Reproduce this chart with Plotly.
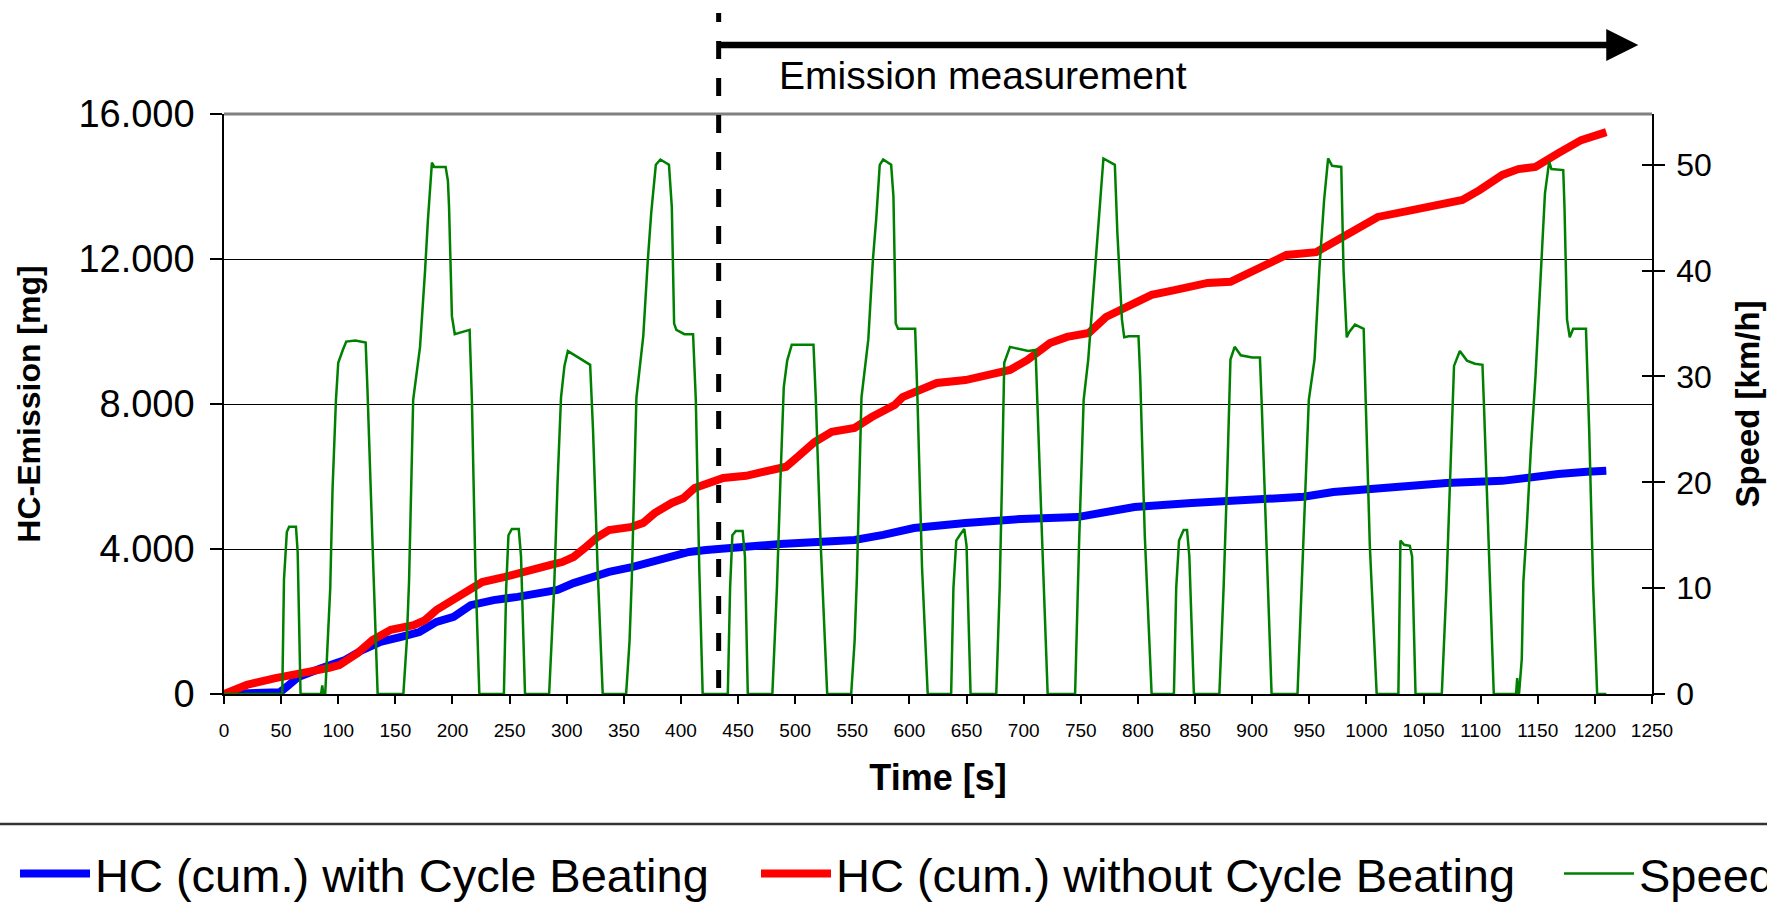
import plotly.graph_objects as go

# ---------------- data ----------------
BLUE_T = [0, 20, 49, 55, 65, 85, 106, 121, 137, 156,
          171, 186, 201, 216, 236, 257, 277, 292, 306, 322,
          337, 357, 372, 387, 407, 422, 437, 457, 487, 517,
          552, 577, 604, 649, 698, 747, 772, 797, 847, 896,
          945, 971, 1020, 1070, 1119, 1144, 1168, 1193, 1210]
BLUE_V = [0, 20, 50, 200, 470, 710, 940, 1210, 1440, 1580,
          1710, 1990, 2130, 2450, 2590, 2680, 2790, 2870, 3060, 3230,
          3370, 3500, 3640, 3780, 3920, 3970, 4030, 4060, 4140, 4200,
          4250, 4390, 4580, 4720, 4830, 4880, 5020, 5160, 5270, 5380,
          5440, 5570, 5710, 5820, 5880, 5990, 6070, 6130, 6160]

RED_T = [0, 20, 45, 71, 92, 101, 117, 130, 146, 166,
         176, 186, 206, 216, 226, 246, 266, 286, 296, 306,
         317, 327, 337, 357, 367, 377, 392, 402, 412, 427,
         437, 457, 477, 492, 502, 517, 532, 552, 567, 587,
         594, 624, 649, 673, 688, 703, 723, 738, 757, 772,
         792, 812, 832, 861, 881, 896, 915, 930, 956, 975,
         995, 1010, 1040, 1070, 1084, 1099, 1119, 1133, 1148, 1168,
         1188, 1210]
RED_V = [0, 250, 440, 580, 720, 800, 1130, 1490, 1770, 1900,
         2040, 2320, 2730, 2950, 3090, 3230, 3370, 3560, 3640, 3780,
         4060, 4330, 4520, 4610, 4720, 4990, 5270, 5400, 5680, 5850,
         5960, 6020, 6180, 6270, 6540, 6950, 7230, 7340, 7640, 7970,
         8190, 8580, 8660, 8850, 8940, 9210, 9680, 9850, 9960, 10400,
         10730, 11010, 11140, 11340, 11370, 11610, 11920, 12110, 12190, 12520,
         12890, 13160, 13350, 13540, 13630, 13900, 14320, 14480, 14540, 14920,
         15280, 15500]

SPEED_T = [
    # cycle 1
    0, 51, 52.5, 55, 57, 63, 64.5, 67,
    85, 86, 87, 88.6, 93, 95, 98, 100, 104, 107, 115, 124, 125.5, 128, 131, 134.5,
    157, 160, 162, 165.6, 171.6, 176, 178.5, 182, 184, 194, 196, 197, 199.5, 202, 208, 215, 217, 220, 223.5,
    # cycle 2
    245, 247, 249, 252, 258, 260, 263.5,
    284.6, 289, 292, 295, 298, 301, 310, 320.5, 323, 327, 331.5,
    352, 355, 357, 361, 367, 371, 374, 378, 382, 389.5, 392, 394, 396, 403, 410.6, 413, 416, 419,
    # cycle 3
    441, 443, 445, 448, 454, 456, 458.5,
    480, 484, 487, 490, 493, 497, 510, 516, 518, 522, 528,
    549, 552, 554, 558, 564, 568, 571, 574, 577, 584, 586, 588, 590, 600, 605, 607, 611, 616,
    # cycle 4
    636.5, 638.5, 641, 644, 648, 650, 653.5,
    676, 679, 681, 683, 688, 695, 704, 710.4, 712, 716, 721,
    745, 748.5, 752.5, 756.5, 764, 767.5, 769.8, 779.8, 782, 786, 788, 792, 800.5, 802, 806, 812,
    # cycle 5
    831.5, 833.5, 836, 840, 843, 845, 849,
    871.3, 875, 878, 881, 884.7, 890, 900, 906.8, 908.5, 912, 917,
    939.7, 944.5, 949.6, 954.6, 959, 963, 966.5, 970, 978, 980, 982.8, 985, 990, 997.6, 999, 1003, 1009,
    # cycle 6
    1028, 1029.8, 1033, 1038, 1040, 1043,
    1066, 1070, 1073, 1076.7, 1081.8, 1088, 1095, 1101.6, 1103, 1107, 1111.5,
    1131, 1132, 1133,
    1133.6, 1136, 1137.4, 1140.3, 1143.8, 1148, 1151, 1154.3, 1156.3, 1160, 1162, 1172.3, 1173.4, 1175.6,
    1178, 1181, 1192.2, 1195, 1198.5, 1202, 1210]
SPEED_V = [
    # cycle 1
    0, 0, 10.8, 15.3, 15.8, 15.8, 13.4, 0,
    0, 0.8, 0, 0, 10, 19.3, 27.8, 31.3, 32.5, 33.3, 33.4, 33.2, 29, 20, 11, 0,
    0, 5, 10.7, 27.8, 32.8, 40, 44.8, 50.2, 49.8, 49.8, 48.5, 46, 35.7, 34, 34.2, 34.4, 27.8, 12, 0,
    # cycle 2
    0, 10, 15, 15.6, 15.6, 13, 0,
    0, 10, 20, 28, 31, 32.4, 31.8, 31.1, 25, 12, 0,
    0, 5, 11, 28, 33.8, 41, 45.5, 50, 50.5, 50, 46, 35, 34.4, 34, 34, 27.8, 12, 0,
    # cycle 3
    0, 10, 15, 15.4, 15.4, 13, 0,
    0, 10, 20, 29, 31.5, 33, 33, 33, 28, 15, 0,
    0, 5, 11, 28, 33.5, 41, 45, 50, 50.5, 50, 47, 35, 34.5, 34.5, 34.5, 28, 12, 0,
    # cycle 4
    0, 10, 14.5, 15, 15.6, 14, 0,
    0, 10, 20, 31.3, 32.8, 32.6, 32.4, 32.5, 28, 15, 0,
    0, 14.3, 27.8, 31.6, 42, 47.4, 50.6, 50, 43.6, 35.4, 33.7, 33.8, 33.8, 30, 15, 0,
    # cycle 5
    0, 10, 14.5, 15.5, 15.5, 13, 0,
    0, 10, 20, 31.6, 32.8, 32, 31.8, 31.8, 27, 15, 0,
    0, 14.3, 27.8, 31.6, 40.4, 46.7, 50.6, 49.9, 49.8, 40, 33.7, 34.2, 34.9, 34.5, 29, 14, 0,
    # cycle 6
    0, 14.5, 14.1, 14, 13, 0,
    0, 10, 20, 31, 32.4, 31.5, 31.2, 31.1, 27, 14, 0,
    0, 1.5, 0,
    0, 3.3, 10.6, 15.6, 22.8, 30, 36, 42.3, 47.3, 50.3, 49.6, 49.5, 46, 35.4,
    33.7, 34.5, 34.5, 25, 10.2, 0, 0]

NAMES = ["HC (cum.) with Cycle Beating", "HC (cum.) without Cycle Beating", "Speed"]
HC_TICKS = [0, 4000, 8000, 12000, 16000]
SPEED_TICKS = [0, 10, 20, 30, 40, 50]
TIME_TICKS = list(range(0, 1251, 50))
MEAS_START = 433      # s, begin of emission measurement
MEAS_END = 1238       # s, arrow tip

# ---------------- layout geometry ----------------
W, H = 1767, 915
ML, MR, MT, MB = 224, 115, 114, 221
PW, PH = W - ML - MR, H - MT - MB


def px_to_py(ypix):
    return (H - MB - ypix) / PH


def px_to_px(xpix):
    return (xpix - ML) / PW


FONT = "Liberation Sans, Arial, sans-serif"

fig = go.Figure()
fig.add_trace(go.Scatter(x=BLUE_T, y=BLUE_V, mode="lines", name=NAMES[0],
                         line=dict(color="#0000FF", width=8), legend="legend"))
fig.add_trace(go.Scatter(x=RED_T, y=RED_V, mode="lines", name=NAMES[1],
                         line=dict(color="#FF0000", width=8), legend="legend2"))
fig.add_trace(go.Scatter(x=SPEED_T, y=SPEED_V, mode="lines", name=NAMES[2], yaxis="y2",
                         line=dict(color="#008000", width=2.5), legend="legend3"))
# helper axis only for inward tick marks on the right axis
fig.add_trace(go.Scatter(x=[None], y=[None], yaxis="y3", showlegend=False, hoverinfo="skip"))

SPEED_MAX = 54.8

leg_common = dict(orientation="h", yanchor="middle", xanchor="left", y=px_to_py(874),
                  font=dict(family=FONT, size=47, color="black"), itemwidth=70,
                  bgcolor="rgba(0,0,0,0)", borderwidth=0)

fig.update_layout(
    width=W, height=H,
    margin=dict(l=ML, r=MR, t=MT, b=MB, autoexpand=False),
    paper_bgcolor="white", plot_bgcolor="white",
    separators=",.",
    font=dict(family=FONT, color="black"),
    xaxis=dict(range=[0, 1250], tickvals=TIME_TICKS, ticks="outside", ticklen=8,
               tickwidth=1.5, tickcolor="black", showline=True, linecolor="black", linewidth=1.5,
               showgrid=False, zeroline=False, tickfont=dict(size=19, family=FONT),
               ticklabelstandoff=10,
               title=dict(text="<b>Time [s]</b>", font=dict(size=36, family=FONT), standoff=25)),
    yaxis=dict(range=[0, 16000], tickvals=HC_TICKS, tickformat=",d", ticks="outside", ticklen=12,
               tickwidth=1.5, tickcolor="black", showline=True, linecolor="black", linewidth=1.5,
               showgrid=True, gridcolor="black", gridwidth=1, zeroline=False,
               tickfont=dict(size=38, family=FONT), ticklabelstandoff=8,
               title=dict(text="<b>HC-Emission [mg]</b>", font=dict(size=32, family=FONT), standoff=28)),
    yaxis2=dict(range=[0, SPEED_MAX], tickvals=SPEED_TICKS, overlaying="y", side="right",
                ticks="outside", ticklen=11, tickwidth=1.5, tickcolor="black",
                showline=True, linecolor="black", linewidth=1.5, showgrid=False, zeroline=False,
                tickfont=dict(size=32, family=FONT), ticklabelstandoff=5,
                title=dict(text="<b>Speed [km/h]</b>", font=dict(size=33, family=FONT), standoff=25)),
    yaxis3=dict(range=[0, SPEED_MAX], tickvals=SPEED_TICKS, overlaying="y", side="right",
                ticks="inside", ticklen=10, tickwidth=1.5, tickcolor="black",
                showticklabels=False, showline=False, showgrid=False, zeroline=False),
    legend=dict(x=px_to_px(15), **leg_common),
    legend2=dict(x=px_to_px(756), **leg_common),
    legend3=dict(x=px_to_px(1559), **leg_common),
    showlegend=True,
)

# top border of plot area (grey) and separator above the legend
fig.add_shape(type="line", xref="paper", yref="paper", x0=0, x1=1, y0=1, y1=1,
              line=dict(color="#808080", width=3))
fig.add_shape(type="line", xref="paper", yref="paper", x0=px_to_px(0), x1=px_to_px(W),
              y0=px_to_py(824), y1=px_to_py(824), line=dict(color="#333333", width=2.5))

# dashed marker of measurement start
dash_pattern = "9px,19px," + ",".join(["18px,19px"] * 20)
fig.add_shape(type="line", xref="x", yref="paper", x0=MEAS_START, x1=MEAS_START,
              y0=px_to_py(13), y1=0, line=dict(color="black", width=5, dash=dash_pattern))

# arrow
fig.add_annotation(x=MEAS_END, y=px_to_py(45), xref="x", yref="paper",
                   ax=MEAS_START, ay=0, axref="x", ayref="pixel",
                   showarrow=True, arrowhead=2, arrowsize=0.985, arrowwidth=6.5,
                   arrowcolor="black", text="")
fig.add_annotation(x=484, y=px_to_py(75), xref="x", yref="paper", xanchor="left",
                   yanchor="middle", showarrow=False, text="Emission measurement",
                   font=dict(size=39, family=FONT, color="black"))

fig.write_html("out.html")
